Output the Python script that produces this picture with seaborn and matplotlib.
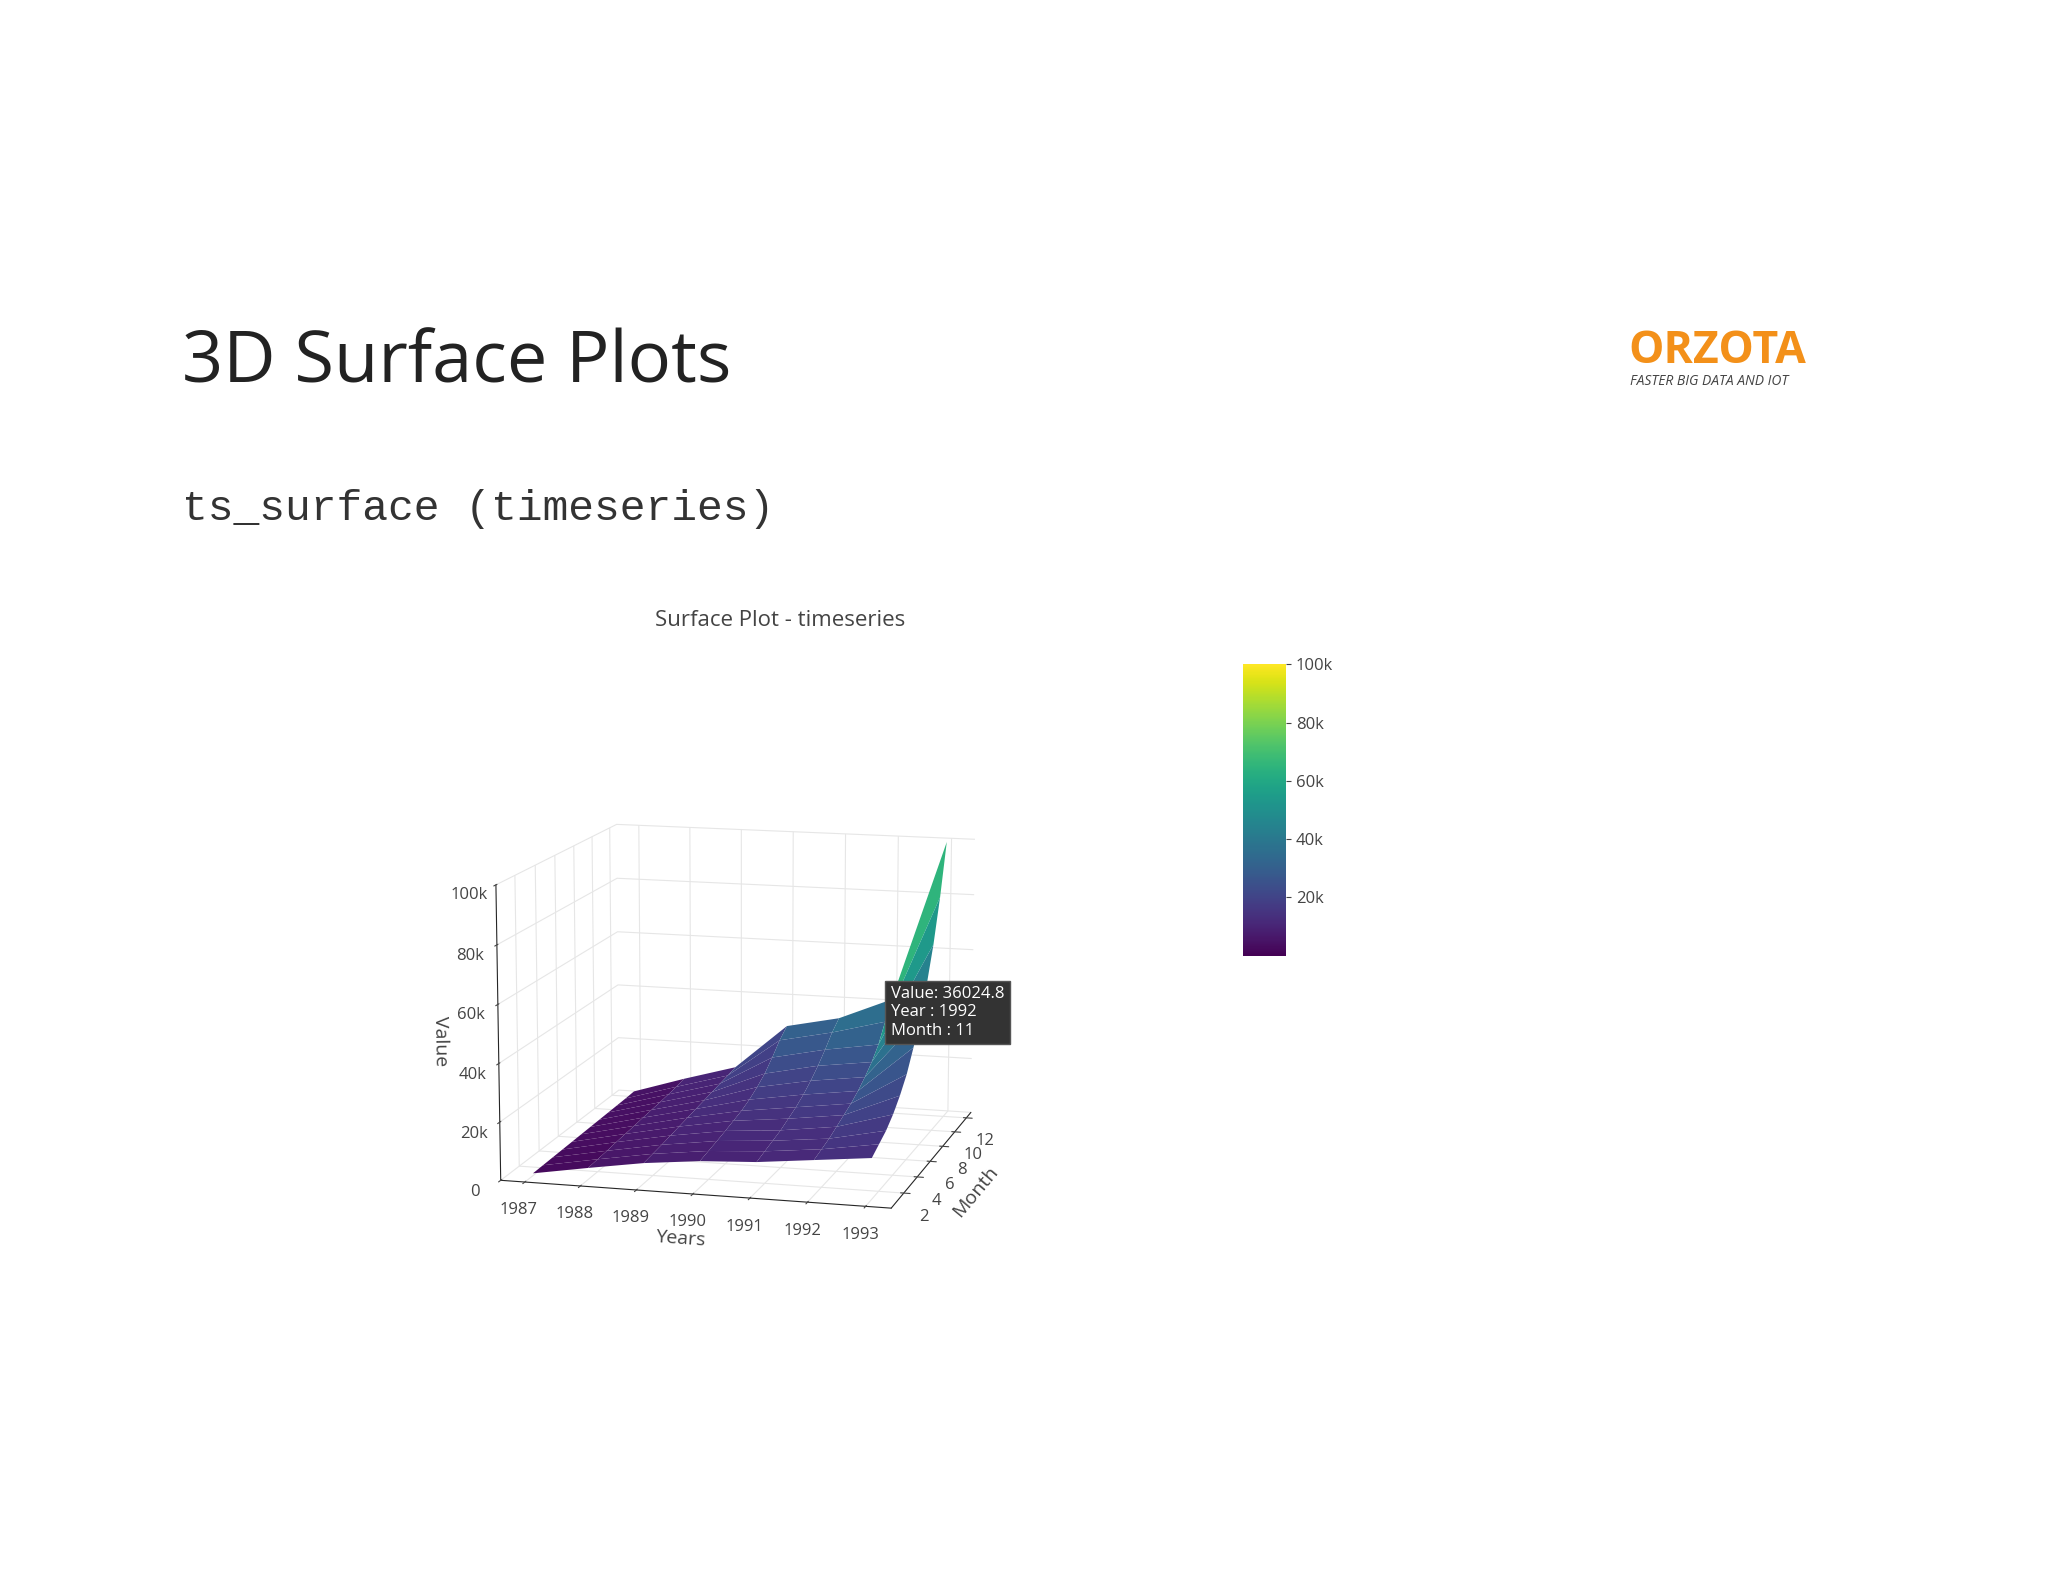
import numpy as np
import matplotlib
matplotlib.use("Agg")
import matplotlib.pyplot as plt
import seaborn as sns

sns.set_style("white")
plt.rcParams['font.family'] = ['Open Sans', 'DejaVu Sans']

years = [1987, 1988, 1989, 1990, 1991, 1992, 1993]
months = [1, 2, 3, 4, 5, 6, 7, 8, 9, 10, 11, 12]
# values per year, months 1..12
v1987 = [800, 900, 1000, 1100, 1200, 1300, 1400, 1500, 1600, 1700, 1800, 2000]
v1988 = [4000, 4300, 4600, 5000, 5300, 5600, 6000, 6300, 6600, 7000, 7400, 8000]
v1989 = [7000, 7500, 8000, 8600, 9200, 9800, 10400, 11000, 11600, 12200, 12800, 13500]
v1990 = [9000, 9800, 10600, 11500, 12500, 13500, 15000, 17000, 19500, 23000, 27000, 30000]
v1991 = [10000, 11000, 12000, 13000, 14500, 16000, 18000, 20500, 23500, 27000, 31000, 34000]
v1992 = [12000, 13000, 14000, 15500, 17000, 18500, 20500, 23000, 26000, 30000, 36024.8, 42000]
v1993 = [14000, 16000, 18000, 21000, 25000, 30000, 37000, 45000, 55000, 67000, 82000, 100000]
values = np.array([v1987, v1988, v1989, v1990, v1991, v1992, v1993])

fig = plt.figure(figsize=(20.48, 15.82), dpi=100)

fig.text(0.089, 0.77, "3D Surface Plots", fontsize=52, color="#222222", va="center")
fig.text(0.089, 0.678, "ts_surface (timeseries)", fontsize=31, family="Liberation Mono",
         color="#333333", va="center")
fig.text(0.795, 0.778, "ORZOTA", fontsize=32, fontweight="bold", color="#f39019", va="center")
fig.text(0.796, 0.759, "FASTER BIG DATA AND IOT", fontsize=10, color="#444444",
         va="center", style="italic")
fig.text(0.381, 0.604, "Surface Plot - timeseries", fontsize=16, color="#444444", ha="center")

ax = fig.add_axes([0.17, 0.17, 0.38, 0.38], projection="3d")
X, Y = np.meshgrid(years, months, indexing="ij")
surf = ax.plot_surface(X, Y, values, cmap="viridis", vmin=0, vmax=100000,
                       linewidth=0, antialiased=True, shade=False)
ax.view_init(elev=12, azim=-75)
ax.zaxis.set_ticks_position("lower")
ax.zaxis.set_label_position("lower")
ax.set_xticks(years)
ax.set_yticks([2, 4, 6, 8, 10, 12])
ax.set_zticks([0, 20000, 40000, 60000, 80000, 100000])
ax.set_zticklabels(["0", "20k", "40k", "60k", "80k", "100k"])
ax.set_zlim(0, 100000)
ax.set_xlabel("Years", fontsize=14, color="#444444")
ax.set_ylabel("Month", fontsize=14, color="#444444")
ax.set_zlabel("Value", fontsize=14, color="#444444")
ax.tick_params(labelsize=12, colors="#444444")
for a in (ax.xaxis, ax.yaxis, ax.zaxis):
    a.set_pane_color((1, 1, 1, 0))
    a._axinfo["grid"]["color"] = (0.9, 0.9, 0.9, 1)

cax = fig.add_axes([0.607, 0.396, 0.021, 0.184])
cb = fig.colorbar(surf, cax=cax, ticks=[20000, 40000, 60000, 80000, 100000])
cb.ax.set_yticklabels(["20k", "40k", "60k", "80k", "100k"])
cb.ax.tick_params(labelsize=12, colors="#444444")
cb.outline.set_visible(False)

fig.text(0.435, 0.36, "Value: 36024.8\nYear : 1992\nMonth : 11", fontsize=12, color="white",
         va="center", bbox=dict(facecolor="#333333", edgecolor="#555555", pad=4))

fig.savefig("out.png", dpi=100)
